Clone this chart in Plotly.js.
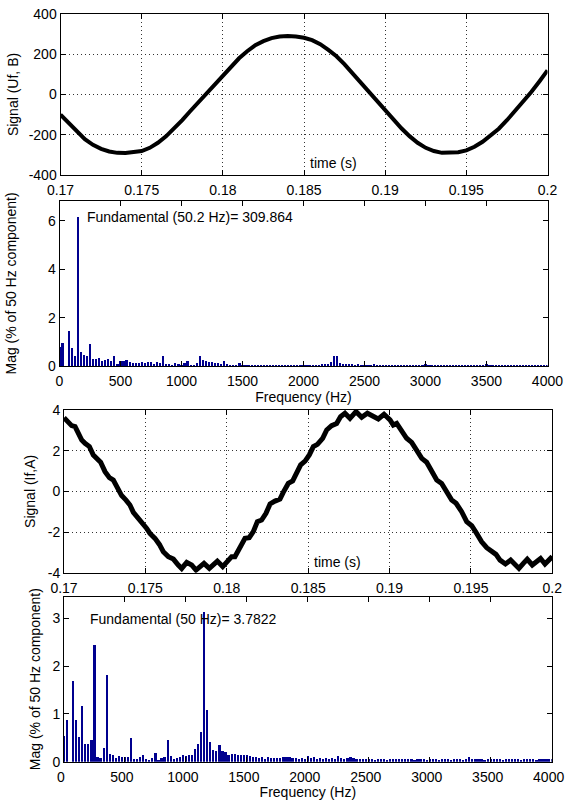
<!DOCTYPE html>
<html>
<head>
<meta charset="utf-8">
<script src="https://cdn.plot.ly/plotly-3.0.1.min.js"></script>
<style>html,body{margin:0;padding:0;background:#fff;}#chart{width:565px;height:802px;}</style>
</head>
<body>
<div id="chart"></div>
<script>
// ---------- Data ----------
const timeUf = [0.1700,0.1705,0.1710,0.1715,0.1720,0.1725,0.1730,0.1735,0.1740,0.1745,0.1750,0.1755,0.1760,0.1765,0.1770,0.1775,0.1780,0.1785,0.1790,0.1795,0.1800,0.1805,0.1810,0.1815,0.1820,0.1825,0.1830,0.1835,0.1840,0.1845,0.1850,0.1855,0.1860,0.1865,0.1870,0.1875,0.1880,0.1885,0.1890,0.1895,0.1900,0.1905,0.1910,0.1915,0.1920,0.1925,0.1930,0.1935,0.1940,0.1945,0.1950,0.1955,0.1960,0.1965,0.1970,0.1975,0.1980,0.1985,0.1990,0.1995,0.2000];
const signalUf = [-100,-143,-185,-222,-250,-270,-283,-290,-291,-288,-281,-265,-240,-208,-170,-127,-82,-38,5,50,95,140,180,215,245,265,280,288,291,288,282,270,250,222,190,150,105,58,12,-35,-80,-125,-168,-207,-240,-265,-281,-290,-291,-287,-278,-260,-235,-205,-170,-128,-82,-35,12,65,120];

const timeIf = [0.17000,0.17027,0.17047,0.17068,0.17088,0.17109,0.17129,0.17156,0.17180,0.17201,0.17225,0.17252,0.17279,0.17303,0.17330,0.17354,0.17381,0.17405,0.17426,0.17457,0.17483,0.17508,0.17528,0.17559,0.17586,0.17610,0.17641,0.17672,0.17702,0.17723,0.17754,0.17784,0.17811,0.17836,0.17860,0.17893,0.17917,0.17942,0.17975,0.17999,0.18030,0.18050,0.18081,0.18112,0.18138,0.18163,0.18188,0.18214,0.18241,0.18266,0.18296,0.18327,0.18347,0.18378,0.18405,0.18430,0.18454,0.18481,0.18507,0.18532,0.18557,0.18589,0.18614,0.18644,0.18675,0.18699,0.18726,0.18757,0.18794,0.18829,0.18864,0.18931,0.18966,0.19003,0.19023,0.19044,0.19074,0.19105,0.19136,0.19167,0.19198,0.19228,0.19259,0.19290,0.19320,0.19351,0.19382,0.19409,0.19443,0.19474,0.19505,0.19535,0.19566,0.19597,0.19628,0.19654,0.19679,0.19712,0.19744,0.19767,0.19795,0.19822,0.19846,0.19877,0.19904,0.19928,0.19955,0.19980,0.20000];
const signalIf = [3.62,3.34,3.23,3.18,2.85,2.52,2.36,2.20,1.79,1.59,1.43,0.97,0.67,0.56,0.18,-0.21,-0.43,-0.67,-1.03,-1.33,-1.49,-1.82,-2.07,-2.31,-2.61,-2.97,-3.21,-3.33,-3.62,-3.79,-3.49,-3.62,-3.87,-3.70,-3.54,-3.79,-3.62,-3.43,-3.70,-3.46,-3.21,-3.21,-2.80,-2.31,-2.28,-1.98,-1.49,-1.41,-1.08,-0.62,-0.48,-0.38,-0.05,0.39,0.51,0.89,1.30,1.49,1.79,2.20,2.31,2.61,3.02,3.23,3.34,3.67,3.84,3.59,3.92,3.64,3.84,3.56,3.79,3.51,3.26,3.34,3.02,2.61,2.41,2.03,1.62,1.43,1.05,0.56,0.39,0.02,-0.43,-0.59,-1.00,-1.49,-1.69,-2.07,-2.48,-2.77,-2.97,-3.10,-3.38,-3.57,-3.38,-3.54,-3.79,-3.54,-3.34,-3.62,-3.46,-3.30,-3.57,-3.41,-3.21];

const freqHz = [0,25,50,75,100,125,150,175,200,225,250,275,300,325,350,375,400,425,450,475,500,525,550,575,600,625,650,675,700,725,750,775,800,825,850,875,900,925,950,975,1000,1025,1050,1075,1100,1125,1150,1175,1200,1225,1250,1275,1300,1325,1350,1375,1400,1425,1450,1475,1500,1525,1550,1575,1600,1625,1650,1675,1700,1725,1750,1775,1800,1825,1850,1875,1900,1925,1950,1975,2000,2025,2050,2075,2100,2125,2150,2175,2200,2225,2250,2275,2300,2325,2350,2375,2400,2425,2450,2475,2500,2525,2550,2575,2600,2625,2650,2675,2700,2725,2750,2775,2800,2825,2850,2875,2900,2925,2950,2975,3000,3025,3050,3075,3100,3125,3150,3175,3200,3225,3250,3275,3300,3325,3350,3375,3400,3425,3450,3475,3500,3525,3550,3575,3600,3625,3650,3675,3700,3725,3750,3775,3800,3825,3850,3875,3900,3925,3950,3975,4000];

const magUf = [0.80,0.94,0,1.45,0.74,0.41,6.17,0.56,0.45,0.41,0.90,0.29,0.29,0.34,0.19,0.25,0.28,0.19,0.40,0.10,
0.20,0.20,0.25,0.15,0.14,0.13,0.13,0.15,0.14,0.15,0.18,0.10,0.15,0.14,0.40,0.10,0.09,0.06,0.14,0.07,
0.05,0.14,0.20,0.06,0.05,0.11,0.43,0.25,0.21,0.15,0.15,0.13,0.12,0.08,0.22,0.08,0.06,0.05,0.05,0.11,
0.06,0.05,0.06,0.05,0.05,0.06,0.05,0.06,0.05,0.05,0.06,0.05,0.05,0.06,0.05,0.05,0.06,0.05,0.05,0.05,
0.06,0.05,0.05,0.06,0.05,0.05,0.07,0.08,0.09,0.15,0.40,0.40,0.13,0.10,0.10,0.08,0.10,0.05,0.08,0.05,
0.06,0.05,0.06,0.08,0.05,0.06,0.05,0.05,0.06,0.05,0.05,0.06,0.05,0.05,0.05,0.06,0.05,0.05,0.06,0.05,
0.10,0.06,0.05,0.05,0.06,0.05,0.05,0.05,0.06,0.05,0.05,0.06,0.05,0.05,0.06,0.05,0.05,0.05,0.06,0.05,
0.10,0.06,0.05,0.05,0.06,0.05,0.05,0.05,0.06,0.05,0.05,0.06,0.05,0.05,0.05,0.06,0.05,0.05,0.06,0.05,0.05];

const magIf = [0.53,0.87,0,1.69,0.87,0.51,1.17,0.36,0.38,0.46,2.44,0.10,0.07,0.28,1.82,0.17,0.14,0.07,0.12,0.09,
0.10,0.10,0.50,0.05,0.05,0.10,0.14,0.05,0.03,0.07,0.19,0.03,0.08,0.10,0.45,0.12,0.05,0.08,0.10,0.14,
0.12,0.15,0.13,0.27,0.37,0.63,3.13,1.08,0.42,0.25,0.22,0.35,0.23,0.20,0.15,0.16,0.16,0.13,0.14,0.14,
0.13,0.12,0.10,0.09,0.08,0.09,0.06,0.10,0.07,0.07,0.08,0.07,0.09,0.10,0.09,0.07,0.08,0.06,0.07,0.06,
0.11,0.08,0.09,0.06,0.07,0.05,0.07,0.05,0.07,0.06,0.12,0.08,0.06,0.07,0.10,0.07,0.06,0.05,0.06,0.05,
0.06,0.05,0.04,0.05,0.06,0.05,0.04,0.06,0.05,0.05,0.06,0.05,0.06,0.05,0.05,0.04,0.05,0.06,0.05,0.04,
0.05,0.06,0.05,0.04,0.06,0.05,0.05,0.04,0.06,0.05,0.05,0.04,0.05,0.09,0.06,0.05,0.05,0.06,0.04,0.05,
0.05,0.06,0.05,0.05,0.04,0.06,0.05,0.05,0.06,0.05,0.04,0.05,0.06,0.05,0.05,0.04,0.05,0.06,0.05,0.05,0.06];

const timeTicks = [0.17,0.175,0.18,0.185,0.19,0.195,0.2];
const timeTickText = ['0.17','0.175','0.18','0.185','0.19','0.195','0.2'];
const ufTicks = [-400,-200,0,200,400];
const ufTickText = ['-400','-200','0','200','400'];
const ifTicks = [-4,-2,0,2,4];
const ifTickText = ['-4','-2','0','2','4'];
const freqTicks = [0,500,1000,1500,2000,2500,3000,3500,4000];
const freqTickText = ['0','500','1000','1500','2000','2500','3000','3500','4000'];
const magUfTicks = [0,2,4,6];
const magIfTicks = [0,1,2,3];

// ---------- Layout helpers ----------
const W = 565, H = 802;
const FONT = {family: 'Liberation Sans, Arial, Helvetica, sans-serif', size: 14, color: '#000'};
const px = (a, b) => [a / W, b / W];
const py = (top, bottom) => [1 - bottom / H, 1 - top / H];
const GRID_DASH = '1px,3px';

function xax(domain, anchor, range, tv, tt, grid, title, shift) {
  const a = {
    domain: domain, anchor: anchor, range: range, tickmode: 'array', tickvals: tv, ticktext: tt,
    ticks: 'inside', ticklen: 5, tickcolor: '#000', showline: true, linecolor: '#000', linewidth: 1,
    mirror: 'allticks', zeroline: false, showgrid: grid, gridcolor: '#333', griddash: GRID_DASH, gridwidth: 1,
    tickfont: FONT, fixedrange: true, ticklabelstandoff: 2, ticklabeloverflow: 'allow',
    ticklabelshift: shift || 0
  };
  if (title) a.title = {text: title, font: FONT, standoff: 1};
  return a;
}
function yax(domain, anchor, range, tv, tt, grid, title, standoff) {
  return {
    domain: domain, anchor: anchor, range: range, tickmode: 'array', tickvals: tv, ticktext: tt,
    ticks: 'inside', ticklen: 5, tickcolor: '#000', showline: true, linecolor: '#000', linewidth: 1,
    mirror: 'allticks', zeroline: false, showgrid: grid, gridcolor: '#333', griddash: GRID_DASH, gridwidth: 1,
    tickfont: FONT, fixedrange: true, ticklabeloverflow: 'allow',
    title: {text: title, font: FONT, standoff: standoff}
  };
}

const traces = [
  {x: timeUf, y: signalUf, xaxis: 'x', yaxis: 'y', type: 'scatter', mode: 'lines',
   line: {color: '#000', width: 4}},
  {x: freqHz, y: magUf, xaxis: 'x2', yaxis: 'y2', type: 'bar', width: 18,
   marker: {color: '#00008F', line: {width: 0}}},
  {x: timeIf, y: signalIf, xaxis: 'x3', yaxis: 'y3', type: 'scatter', mode: 'lines',
   line: {color: '#000', width: 5}},
  {x: freqHz, y: magIf, xaxis: 'x4', yaxis: 'y4', type: 'bar', width: 18,
   marker: {color: '#00008F', line: {width: 0}}}
];

const layout = {
  width: W, height: H, margin: {l: 0, r: 0, t: 0, b: 0},
  paper_bgcolor: '#fff', plot_bgcolor: '#fff', showlegend: false, hovermode: false,
  font: FONT, bargap: 0,
  xaxis:  xax(px(60.5, 547.5), 'y',  [0.17, 0.2], timeTicks, timeTickText, true, null),
  yaxis:  yax(py(14, 175), 'x',  [-400, 400], ufTicks, ufTickText, true, 'Signal (Uf, B)', 6),
  xaxis2: xax(px(59.5, 547.5), 'y2', [0, 4000.5], freqTicks, freqTickText, false, 'Frequency (Hz)'),
  yaxis2: yax(py(201, 366), 'x2', [0, 6.82], magUfTicks, magUfTicks.map(String), false, 'Mag (% of 50 Hz component)', 28),
  xaxis3: xax(px(64, 552.3), 'y3', [0.17, 0.2], timeTicks, timeTickText, true, null),
  yaxis3: yax(py(410, 572.7), 'x3', [-4, 4], ifTicks, ifTickText, true, 'Signal (If,A)', 8),
  xaxis4: xax(px(64, 551.7), 'y4', [0, 4000.5], freqTicks, freqTickText, false, 'Frequency (Hz)', -3),
  yaxis4: yax(py(596.7, 761.7), 'x4', [0, 3.45], magIfTicks, magIfTicks.map(String), false, 'Mag (% of 50 Hz component)', 8),
  annotations: [
    {xref: 'x', yref: 'y', x: 0.18525, y: -340, text: 'time (s)', showarrow: false, xanchor: 'left', yanchor: 'middle', font: FONT},
    {xref: 'x3', yref: 'y3', x: 0.18525, y: -3.47, text: 'time (s)', showarrow: false, xanchor: 'left', yanchor: 'middle', font: FONT},
    {xref: 'x2', yref: 'y2', x: 205, y: 6.17, text: 'Fundamental (50.2 Hz)= 309.864', showarrow: false, xanchor: 'left', yanchor: 'middle', font: FONT},
    {xref: 'x4', yref: 'y4', x: 200, y: 2.98, text: 'Fundamental (50 Hz)= 3.7822', showarrow: false, xanchor: 'left', yanchor: 'middle', font: FONT}
  ]
};

Plotly.newPlot('chart', traces, layout, {staticPlot: true, displayModeBar: false});
</script>
</body>
</html>
